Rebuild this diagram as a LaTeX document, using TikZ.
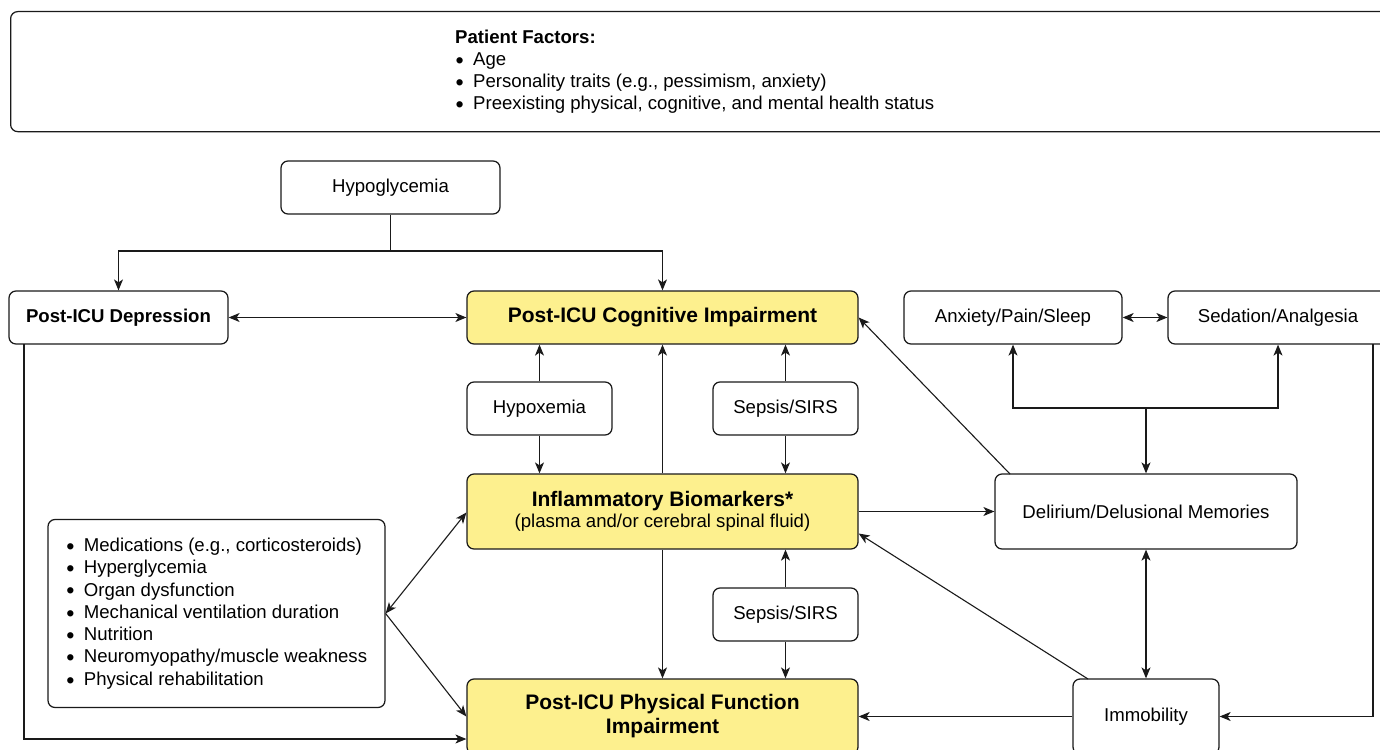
\documentclass[tikz,border=0pt]{standalone}
\usepackage{fontspec}
\setmainfont{Liberation Sans}
\usetikzlibrary{arrows.meta,calc}
\definecolor{hl}{HTML}{FDF08E}
\definecolor{ln}{HTML}{1A1A1A}
\newcommand\bul{\makebox[18pt][l]{\hspace{0.5pt}\smash{\raisebox{-0.3ex}{\scalebox{1.25}{\textbullet}}}}}
\tikzset{
  box/.style={draw=ln, line width=1.25pt, rounded corners=7pt, fill=white, inner sep=0pt, align=center,
    font=\fontsize{18.6}{22}\selectfont},
  hlbox/.style={box, fill=hl},
  conn/.style={draw=ln, line width=1.1pt},
  arr/.style={conn, -{Stealth[length=11pt,width=9pt,inset=3pt]}},
  darr/.style={conn, {Stealth[length=11pt,width=9pt,inset=3pt]}-{Stealth[length=11pt,width=9pt,inset=3pt]}},
  bigb/.style={font=\fontsize{21}{24}\selectfont\bfseries},
}
\begin{document}
\begin{tikzpicture}[x=1pt,y=-1pt]
\useasboundingbox (0,0) rectangle (1380,749);
\clip (0,0) rectangle (1380,749);
% Patient factors
\node[box, minimum width=1390pt, minimum height=120pt, anchor=north west] (pf) at (10,11) {};
\node[anchor=north west, inner sep=0pt, align=left, font=\fontsize{18.6}{22}\selectfont] (pft) at (455,30)
 {\textbf{Patient Factors:}\\
  \bul Age\\
  \bul Personality traits (e.g., pessimism, anxiety)\\
  \bul Preexisting physical, cognitive, and mental health status};
% Nodes
\node[box, minimum width=219pt, minimum height=53pt] (hypo) at (390.5,187.5) {Hypoglycemia};
\node[box, minimum width=219pt, minimum height=53pt, font=\fontsize{18.6}{22}\selectfont\bfseries] (dep) at (118.5,317.5) {Post-ICU Depression};
\node[hlbox, minimum width=391pt, minimum height=53pt, bigb] (cog) at (662.5,317.5) {Post-ICU Cognitive Impairment};
\node[box, minimum width=145pt, minimum height=53pt] (hypox) at (539.5,408.5) {Hypoxemia};
\node[box, minimum width=145pt, minimum height=53pt] (sep1) at (785.5,408.5) {Sepsis/SIRS};
\node[hlbox, minimum width=391pt, minimum height=75pt] (infl) at (662.5,511.5)
 {{\fontsize{21}{23}\selectfont\bfseries Inflammatory Biomarkers*}\\[-1pt](plasma and/or cerebral spinal fluid)};
\node[box, minimum width=145pt, minimum height=53pt] (sep2) at (785.5,614.5) {Sepsis/SIRS};
\node[hlbox, minimum width=391pt, minimum height=75pt, bigb] (phys) at (662.5,716.5) {Post-ICU Physical Function\\Impairment};
\node[box, minimum width=218pt, minimum height=53pt] (anx) at (1013,317.5) {Anxiety/Pain/Sleep};
\node[box, minimum width=220pt, minimum height=53pt] (sed) at (1278,317.5) {Sedation/Analgesia};
\node[box, minimum width=302pt, minimum height=75pt] (del) at (1146,511.5) {Delirium/Delusional Memories};
\node[box, minimum width=146pt, minimum height=75pt] (imm) at (1146,716.5) {Immobility};
\node[box, minimum width=337pt, minimum height=188pt, align=left, font=\fontsize{18.6}{22.3}\selectfont] (meds) at (216.5,613.5)
 {\bul Medications (e.g., corticosteroids)\\
  \bul Hyperglycemia\\
  \bul Organ dysfunction\\
  \bul Mechanical ventilation duration\\
  \bul Nutrition\\
  \bul Neuromyopathy/muscle weakness\\
  \bul Physical rehabilitation};
% Coordinates
\coordinate (hj) at (390.5,251);
\coordinate (dj) at (1146,408);
\coordinate (sedout) at (1373,344);
\coordinate (depout) at (24,344);
\coordinate (delout) at (1010,474);
\coordinate (immout) at (1088,679);
% Connectors
\draw[conn] (hypo.south) -- (hj);
\draw[arr] (hj) -| (dep.north);
\draw[arr] (hj) -| (cog.north);
\draw[darr] (dep.east) -- (cog.west);
\draw[arr] (hypox.north) -- (hypox.north |- cog.south);
\draw[arr] (hypox.south) -- (hypox.south |- infl.north);
\draw[arr] (sep1.north) -- (sep1.north |- cog.south);
\draw[arr] (sep1.south) -- (sep1.south |- infl.north);
\draw[arr] (infl.north) -- (cog.south);
\draw[arr] (infl.east) -- (del.west);
\draw[arr] (dj) -- (del.north);
\draw[arr] (dj) -| (anx.south);
\draw[arr] (dj) -| (sed.south);
\draw[darr] (anx.east) -- (sed.west);
\draw[arr] (delout) -- (cog.east);
\draw[darr] (del.south) -- (imm.north);
\draw[arr] (sedout) |- (imm.east);
\draw[arr] (immout) -- ($(infl.east)+(0,22)$);
\draw[arr] (imm.west) -- (phys.east);
\draw[arr] (infl.south) -- (phys.north);
\draw[arr] (sep2.north) -- (sep2.north |- infl.south);
\draw[arr] (sep2.south) -- (sep2.south |- phys.north);
\draw[darr] (meds.east) -- ($(infl.west)+(0,1)$);
\draw[arr] (meds.east) -- (phys.west);
\draw[arr] (depout) |- ($(phys.west)+(0,22.5)$);
\end{tikzpicture}
\end{document}
